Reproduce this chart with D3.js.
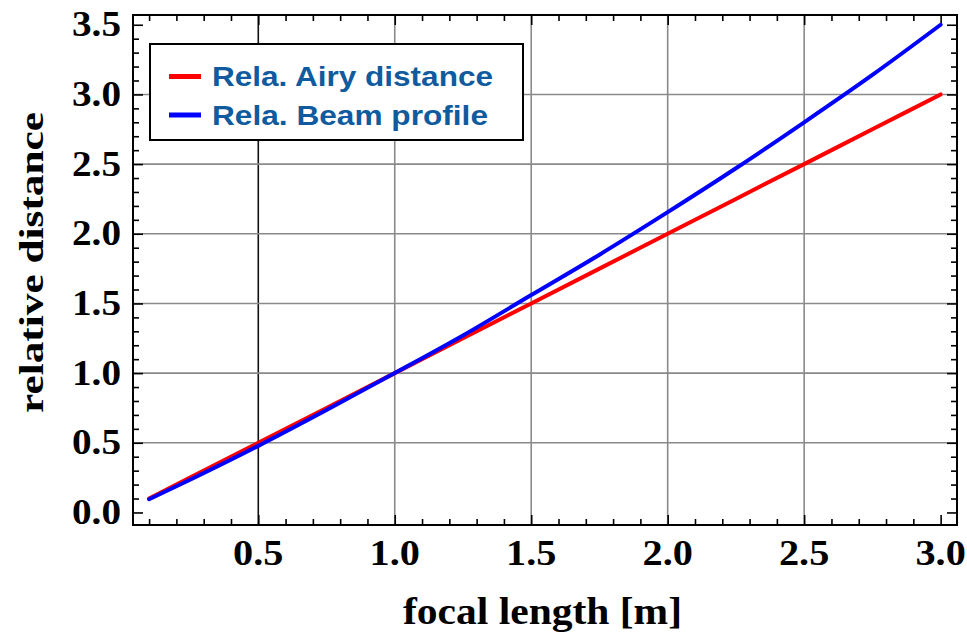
<!DOCTYPE html>
<html>
<head>
<meta charset="utf-8">
<script src="https://cdn.jsdelivr.net/npm/d3@7"></script>
<style>
  html, body { margin: 0; padding: 0; background: #fff; }
  svg { display: block; }
</style>
</head>
<body>
<svg id="chart" width="967" height="633"></svg>
<script>
// ---- data ----
const focalLength = [0.1, 0.25, 0.5, 0.75, 1.0, 1.25, 1.5, 1.75, 2.0, 2.25, 2.5, 2.75, 3.0];
const airyDistance = [0.1, 0.25, 0.5, 0.75, 1.0, 1.25, 1.5, 1.75, 2.0, 2.25, 2.5, 2.75, 3.0];
const beamProfile = [0.095, 0.235, 0.478, 0.735, 1.0, 1.27, 1.56, 1.85, 2.155, 2.47, 2.80, 3.14, 3.50];
const xTickValues = [0.5, 1.0, 1.5, 2.0, 2.5, 3.0];
const yTickValues = [0.0, 0.5, 1.0, 1.5, 2.0, 2.5, 3.0, 3.5];
const xGridValues = [0.5, 1.0, 1.5, 2.0, 2.5];
const yGridValues = [0.5, 1.0, 1.5, 2.0, 2.5, 3.0];
const seriesNames = ["Rela. Airy distance", "Rela. Beam profile"];
const seriesColors = ["#ff0000", "#0000ff"];
const xLabel = "focal length [m]";
const yLabel = "relative distance";

const svg = d3.select("#chart");
const L = 133, R = 957, T = 15, B = 525;

const x = d3.scaleLinear().domain([0.041, 3.06]).range([L, R]);
const y = d3.scaleLinear().domain([-0.09, 3.57]).range([B, T]);

// minor tick positions (every 0.1)
const xMinor = d3.range(1, 31).map(d => d / 10).filter(v => !xTickValues.some(t => Math.abs(t - v) < 1e-9));
const yMinor = d3.range(0, 36).map(d => d / 10).filter(v => !yTickValues.some(t => Math.abs(t - v) < 1e-9));

// gridlines
const grid = svg.append("g");
grid.selectAll("line.vx").data(xGridValues).join("line")
  .attr("x1", d => x(d)).attr("x2", d => x(d))
  .attr("y1", T).attr("y2", B)
  .attr("stroke", d => d === 0.5 ? "#111" : "#8a8a8a")
  .attr("stroke-width", 1.6);
grid.selectAll("line.hy").data(yGridValues).join("line")
  .attr("x1", L).attr("x2", R)
  .attr("y1", d => y(d)).attr("y2", d => y(d))
  .attr("stroke", "#8a8a8a")
  .attr("stroke-width", 1.6);

// ticks with d3 axes (inward)
function styleAxis(g) {
  g.select(".domain").remove();
  g.selectAll(".tick line").attr("stroke", "#000").attr("stroke-width", 1.6);
  g.selectAll(".tick text").remove();
}
const majorLen = 10, minorLen = 6;
svg.append("g").attr("transform", `translate(0,${B})`)
  .call(d3.axisBottom(x).tickValues(xTickValues).tickSize(-majorLen)).call(styleAxis);
svg.append("g").attr("transform", `translate(0,${B})`)
  .call(d3.axisBottom(x).tickValues(xMinor).tickSize(-minorLen)).call(styleAxis);
svg.append("g").attr("transform", `translate(0,${T})`)
  .call(d3.axisTop(x).tickValues(xTickValues).tickSize(-majorLen)).call(styleAxis);
svg.append("g").attr("transform", `translate(0,${T})`)
  .call(d3.axisTop(x).tickValues(xMinor).tickSize(-minorLen)).call(styleAxis);
svg.append("g").attr("transform", `translate(${L},0)`)
  .call(d3.axisLeft(y).tickValues(yTickValues).tickSize(-majorLen)).call(styleAxis);
svg.append("g").attr("transform", `translate(${L},0)`)
  .call(d3.axisLeft(y).tickValues(yMinor).tickSize(-minorLen)).call(styleAxis);
svg.append("g").attr("transform", `translate(${R},0)`)
  .call(d3.axisRight(y).tickValues(yTickValues).tickSize(-majorLen)).call(styleAxis);
svg.append("g").attr("transform", `translate(${R},0)`)
  .call(d3.axisRight(y).tickValues(yMinor).tickSize(-minorLen)).call(styleAxis);

// tick labels
const serif = "'Liberation Serif', 'Times New Roman', serif";
svg.append("g").selectAll("g").data(xTickValues).join("g")
  .attr("transform", d => `translate(${x(d)},565) scale(1.12,1)`)
  .append("text")
  .attr("text-anchor", "middle")
  .attr("font-family", serif).attr("font-weight", "bold").attr("font-size", 36)
  .text(d => d.toFixed(1));
svg.append("g").selectAll("g").data(yTickValues).join("g")
  .attr("transform", d => `translate(121,${y(d)}) scale(1.12,1)`)
  .append("text")
  .attr("text-anchor", "end").attr("dy", "0.33em")
  .attr("font-family", serif).attr("font-weight", "bold").attr("font-size", 35)
  .text(d => d.toFixed(1));

// axis titles
svg.append("text")
  .attr("x", 403).attr("y", 624)
  .attr("font-family", serif).attr("font-weight", "bold").attr("font-size", 38)
  .attr("textLength", 279).attr("lengthAdjust", "spacingAndGlyphs")
  .text(xLabel);
svg.append("text")
  .attr("transform", "translate(43,413) rotate(-90)")
  .attr("font-family", serif).attr("font-weight", "bold").attr("font-size", 34)
  .attr("textLength", 301).attr("lengthAdjust", "spacingAndGlyphs")
  .text(yLabel);

// curves
const line = d3.line().curve(d3.curveMonotoneX).x(d => x(d[0])).y(d => y(d[1]));
const series = [
  focalLength.map((f, i) => [f, airyDistance[i]]),
  focalLength.map((f, i) => [f, beamProfile[i]])
];
svg.append("g").selectAll("path").data(series).join("path")
  .attr("d", line)
  .attr("fill", "none")
  .attr("stroke", (d, i) => seriesColors[i])
  .attr("stroke-width", 4)
  .attr("stroke-linecap", "round");

// frame
svg.append("rect")
  .attr("x", L).attr("y", T).attr("width", R - L).attr("height", B - T)
  .attr("fill", "none").attr("stroke", "#000").attr("stroke-width", 2);

// legend
const lg = svg.append("g");
lg.append("rect")
  .attr("x", 150).attr("y", 44).attr("width", 373).attr("height", 96)
  .attr("fill", "#fff").attr("stroke", "#000").attr("stroke-width", 2);
const legendRows = lg.selectAll("g.row").data(seriesNames).join("g")
  .attr("transform", (d, i) => `translate(0,${76.5 + i * 38.5})`);
legendRows.append("line")
  .attr("x1", 169).attr("x2", 201).attr("y1", 0).attr("y2", 0)
  .attr("stroke", (d, i) => seriesColors[i]).attr("stroke-width", 5);
legendRows.append("text")
  .attr("x", 212).attr("y", 0).attr("dy", "0.35em")
  .attr("font-family", "'Liberation Sans', Arial, sans-serif")
  .attr("font-weight", "bold").attr("font-size", 28)
  .attr("fill", "#0f5b9e")
  .attr("textLength", (d, i) => i === 0 ? 281 : 276)
  .attr("lengthAdjust", "spacingAndGlyphs")
  .text(d => d);
</script>
</body>
</html>
